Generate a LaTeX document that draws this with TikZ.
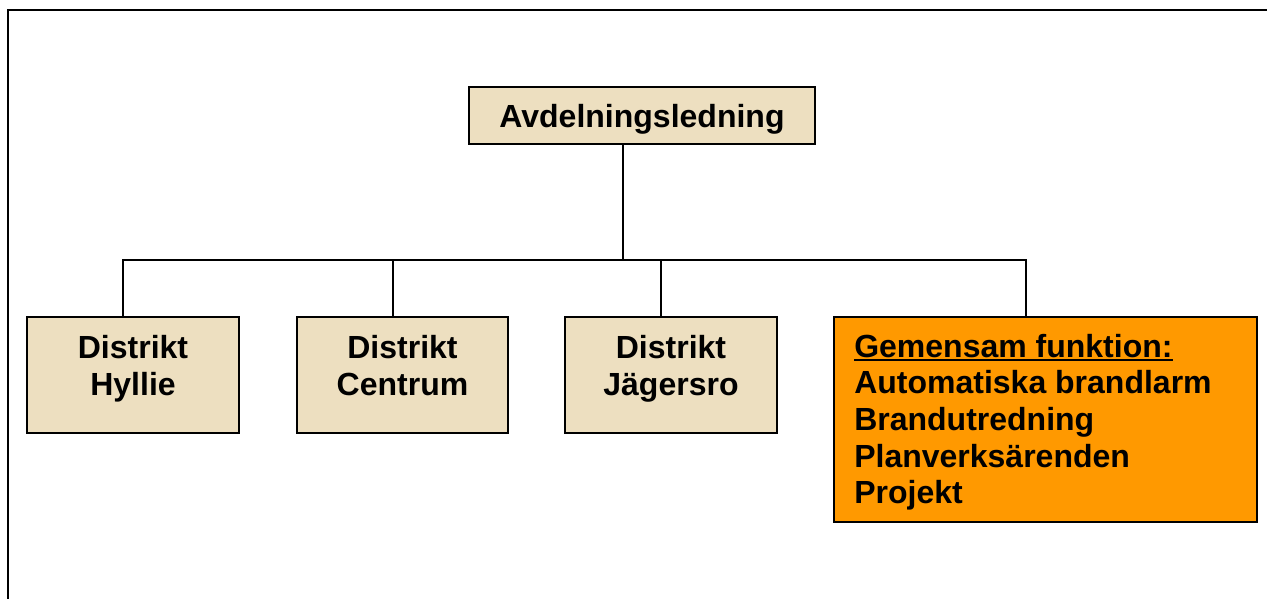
\documentclass[tikz,border=0pt]{standalone}
\usepackage{fontspec}
\setmainfont{Liberation Sans}
\definecolor{parchment}{RGB}{237,223,192}
\definecolor{funcorange}{RGB}{255,153,0}
\newlength\ulwidth
\newcommand\thickul[1]{\settowidth\ulwidth{#1}\rlap{\rule[-3pt]{\ulwidth}{1.6pt}}#1}
\tikzset{
  frameline/.style={line width=1.6pt, black},
  unitbox/.style={draw=black, line width=1.5pt, fill=parchment, rectangle, inner sep=0pt},
  funcbox/.style={draw=black, line width=1.5pt, fill=funcorange, rectangle, inner sep=0pt},
  boxtext/.style={font=\fontsize{24pt}{27.75pt}\selectfont\bfseries, align=center, inner sep=0pt},
  listtext/.style={font=\fontsize{24pt}{27.4pt}\selectfont\bfseries, align=left, inner sep=0pt},
  link/.style={line width=1.5pt, black}
}
\begin{document}
\begin{tikzpicture}[x=0.75pt,y=-0.75pt]
\useasboundingbox (0,0) rectangle (1267,599);
% page frame, open to the right and bottom
\draw[frameline] (8,599) -- (8,10) -- (1267,10);

% head of department
\node[unitbox, minimum width=259.5pt, minimum height=42.75pt] (top) at (642,115.5) {};
\node[boxtext, text depth=0pt] (toptxt) at (top.center) {Avdelningsledning};

% districts
\node[unitbox, minimum width=159pt, minimum height=87pt] (hy) at (133,375) {};
\node[unitbox, minimum width=158.25pt, minimum height=87pt] (ce) at (402.5,375) {};
\node[unitbox, minimum width=159pt, minimum height=87pt] (ja) at (671,375) {};
\node[boxtext] (hytxt) at ([yshift=4.5pt]hy.center) {Distrikt\vphantom{y}\\Hyllie};
\node[boxtext] (cetxt) at ([yshift=4.5pt]ce.center) {Distrikt\vphantom{y}\\Centrum\vphantom{y}};
\node[boxtext] (jatxt) at ([yshift=4.5pt]ja.center) {Distrikt\vphantom{y}\\Jägersro};

% shared functions
\node[funcbox, minimum width=317.25pt, minimum height=153.75pt] (fn) at (1045.5,419.5) {};
\node[listtext, anchor=north west] (fntxt) at ([xshift=15.75pt,yshift=-13.5pt]fn.north west)
  {\thickul{Gemensam funktion:}\\Automatiska brandlarm\\Brandutredning\\Planverksärenden\\Projekt};

% connectors
\coordinate (bus) at (623,260);
\draw[link] ([xshift=-14.25pt]top.south) -- ([xshift=-14.25pt]top.south |- bus);
\draw[link] ([xshift=-7.5pt]hy.north) -- ([xshift=-7.5pt]hy.north |- bus)
  -- ([xshift=-14.7pt]fn.north |- bus) -- ([xshift=-14.7pt]fn.north);
\draw[link] ([xshift=-7.5pt]ce.north) -- ([xshift=-7.5pt]ce.north |- bus);
\draw[link] ([xshift=-7.5pt]ja.north) -- ([xshift=-7.5pt]ja.north |- bus);
\end{tikzpicture}
\end{document}
